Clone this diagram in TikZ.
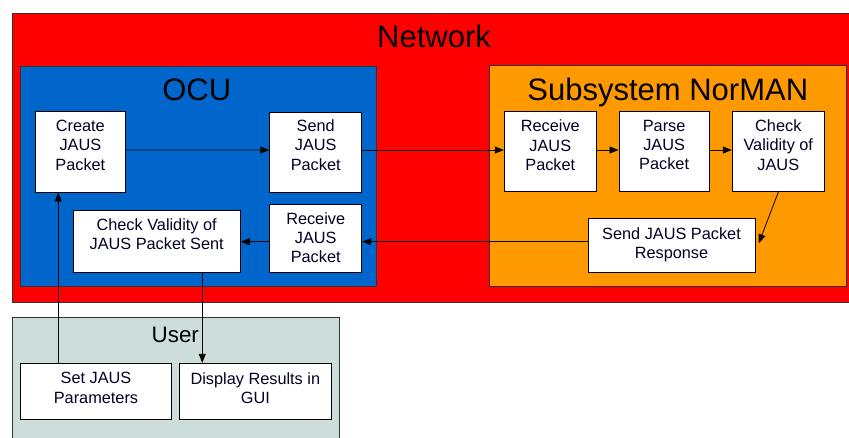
\documentclass[tikz,border=0pt]{standalone}
\usepackage{fontspec}
\setmainfont{Liberation Sans}
\usetikzlibrary{arrows.meta}
\definecolor{netred}{RGB}{255,0,0}
\definecolor{ocublue}{RGB}{0,102,204}
\definecolor{sysorange}{RGB}{255,153,0}
\definecolor{usergray}{RGB}{204,221,219}
\definecolor{frame}{RGB}{50,50,50}
\tikzset{
  area/.style={draw=frame, line width=0.9pt},
  stepbox/.style={draw=black, fill=white, line width=0.9pt, inner sep=0pt, anchor=center},
  txt/.style={font=\fontsize{16.3}{19.3}\selectfont, align=center, inner sep=0pt, text=black!85!blue},
  title/.style={font=\fontsize{31}{36}\selectfont, anchor=base, inner sep=0pt},
  arr/.style={draw=black, line width=0.8pt, -{Triangle[length=9pt,width=7pt]}},
}
\begin{document}
\begin{tikzpicture}[x=1pt,y=-1pt]
\useasboundingbox (0,0) rectangle (849,437);
% containers
\fill[white] (0,0) rectangle (849,437);
\draw[area, fill=netred] (12,13) rectangle (855,302);
\draw[area, fill=ocublue] (20.7,66) rectangle (376.7,286.7);
\draw[area, fill=sysorange] (489.7,65.7) rectangle (846,286);
\draw[area, fill=usergray] (12,317) rectangle (339,445);
\node[title] (tnet) at (434,47) {Network};
\node[title] (tocu) at (196.7,100) {OCU};
\node[title] (tsys) at (667.8,100) {Subsystem NorMAN};
\node[title, font=\fontsize{22.4}{26}\selectfont] (tuser) at (175.3,342.7) {User};
% process boxes
\node[stepbox, minimum width=90.7pt, minimum height=80.3pt] (create) at (80.35,151.85) {};
\node[stepbox, minimum width=92pt, minimum height=80pt] (sendO) at (315.7,152) {};
\node[stepbox, minimum width=92pt, minimum height=68.7pt] (recvO) at (315.7,238.35) {};
\node[stepbox, minimum width=167.3pt, minimum height=62pt] (chkO) at (156.65,241.7) {};
\node[stepbox, minimum width=92pt, minimum height=80pt] (recvN) at (550.3,151.7) {};
\node[stepbox, minimum width=90.3pt, minimum height=80pt] (parse) at (664.15,151.7) {};
\node[stepbox, minimum width=92pt, minimum height=80pt] (chkN) at (778.3,151.7) {};
\node[stepbox, minimum width=167pt, minimum height=54pt] (resp) at (671.5,245.7) {};
\node[stepbox, minimum width=151.4pt, minimum height=56pt] (setp) at (96,391.3) {};
\node[stepbox, minimum width=151.3pt, minimum height=56pt] (disp) at (255.35,391.3) {};
% box texts
\node[txt] (t-create) at (80.35,145.3) {Create\\JAUS\\Packet};
\node[txt] (t-sendO) at (315.7,145) {Send\\JAUS\\Packet};
\node[txt] (t-recvO) at (315.7,237.7) {Receive\\JAUS\\Packet};
\node[txt] (t-chkO) at (156.65,234.5) {Check Validity of\\JAUS Packet Sent};
\node[txt] (t-recvN) at (550.3,145.3) {Receive\\JAUS\\Packet};
\node[txt] (t-parse) at (664.15,145) {Parse\\JAUS\\Packet};
\node[txt] (t-chkN) at (778.3,145) {Check\\Validity of\\JAUS};
\node[txt] (t-resp) at (671.5,244.7) {Send JAUS Packet\\Response};
\node[txt] (t-setp) at (96,388) {Set JAUS\\Parameters};
\node[txt] (t-disp) at (255.35,388) {Display Results in\\GUI};
% connectors
\draw[arr] ([yshift=1.8pt]create.east) -- ([yshift=2pt]sendO.west);
\draw[arr] ([yshift=2pt]sendO.east) -- ([yshift=1.7pt]recvN.west);
\draw[arr] ([yshift=1.7pt]recvN.east) -- ([yshift=1.7pt]parse.west);
\draw[arr] ([yshift=1.7pt]parse.east) -- ([yshift=1.7pt]chkN.west);
\draw[arr] (chkN.south) -- ([shift={(3.3pt,2.4pt)}]resp.east);
\draw[arr] ([yshift=4pt]resp.west) -- ([yshift=4pt]resp.west -| recvO.east);
\draw[arr] (recvO.west |- chkO.east) -- (chkO.east);
\draw[arr] ([xshift=45.6pt]chkO.south) -- ([xshift=45.6pt]chkO.south |- disp.north);
\draw[arr] ([xshift=-37.7pt]setp.north) -- ([xshift=-37.7pt]setp.north |- create.south);
\end{tikzpicture}
\end{document}
